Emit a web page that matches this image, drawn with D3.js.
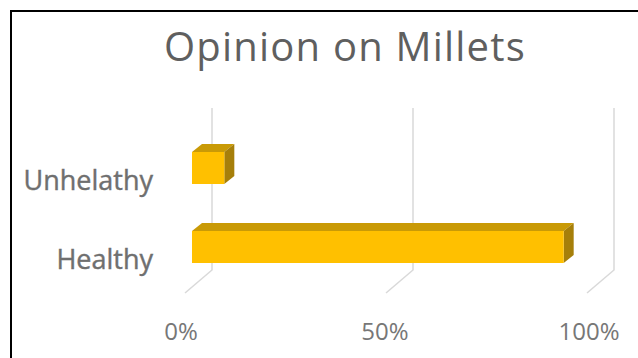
<!DOCTYPE html>
<html><head><meta charset="utf-8">
<script src="https://cdn.jsdelivr.net/npm/d3@7"></script>
<style>html,body{margin:0;padding:0;background:#fff;}svg{display:block;}</style>
</head><body>
<script>
const categories = ["Unhelathy", "Healthy"];
const values = [0.08, 0.92];
const tickValues = [0, 0.5, 1];
const tickLabels = ["0%", "50%", "100%"];
const title = "Opinion on Millets";

const W = 638, H = 358;
const svg = d3.select("body").append("svg").attr("width", W).attr("height", H);

// frame
svg.append("rect").attr("x", 11).attr("y", 11).attr("width", 700).attr("height", 500)
  .attr("fill", "none").attr("stroke", "#000").attr("stroke-width", 2);

// title
svg.append("text").attr("x", 345).attr("y", 61).attr("text-anchor", "middle")
  .attr("font-family", "Open Sans, sans-serif").attr("font-size", 40)
  .attr("letter-spacing", 1.2)
  .attr("fill", "#5f5f5f")
  .text(title);

// 3D geometry
const depthX = 27, depthY = -23; // floor depth (front -> back)
const barDX = 10, barDY = -8;     // bar depth
const xBack = d3.scaleLinear().domain([0, 1]).range([212, 614]);
const floorBackY = 270, gridTopY = 108;
const xBar = d3.scaleLinear().domain([0, 1]).range([192, 596]);
const y = d3.scaleBand().domain(categories).range([152, 263]).paddingInner(0.595).paddingOuter(0);

// gridlines: back wall vertical + floor diagonal
const g = svg.append("g");
tickValues.forEach(t => {
  const xb = xBack(t);
  g.append("path")
    .attr("d", `M${xb},${gridTopY}L${xb},${floorBackY}L${xb - depthX},${floorBackY - depthY}`)
    .attr("fill", "none").attr("stroke", "#d9d9d9").attr("stroke-width", 1.5);
});

// bars
const bars = svg.append("g");
categories.forEach((c, i) => {
  const x0 = xBar(0), x1 = xBar(values[i]);
  const y0 = y(c), h = y.bandwidth();
  bars.append("path")
    .attr("d", `M${x0},${y0}L${x0 + barDX},${y0 + barDY}L${x1 + barDX},${y0 + barDY}L${x1},${y0}Z`)
    .attr("fill", "#C99A06");
  bars.append("path")
    .attr("d", `M${x1},${y0}L${x1 + barDX},${y0 + barDY}L${x1 + barDX},${y0 + h + barDY}L${x1},${y0 + h}Z`)
    .attr("fill", "#A67F0A");
  bars.append("rect").attr("x", x0).attr("y", y0).attr("width", x1 - x0).attr("height", h)
    .attr("fill", "#FFC000");
});

// category labels
categories.forEach(c => {
  svg.append("text").attr("x", 153).attr("y", y(c) + y.bandwidth() / 2 + 22)
    .attr("text-anchor", "end").attr("font-family", "Open Sans, sans-serif")
    .attr("font-size", 27).attr("fill", "#6f6f6f").attr("stroke", "#6f6f6f").attr("stroke-width", 0.4)
    .text(c);
});

// x tick labels
const xFront = d3.scaleLinear().domain([0, 1]).range([181, 589]);
tickValues.forEach((t, i) => {
  svg.append("text").attr("x", xFront(t)).attr("y", 340).attr("text-anchor", "middle")
    .attr("font-family", "Open Sans, sans-serif").attr("font-size", 24)
    .attr("fill", "#777777").text(tickLabels[i]);
});
</script>
</body></html>
